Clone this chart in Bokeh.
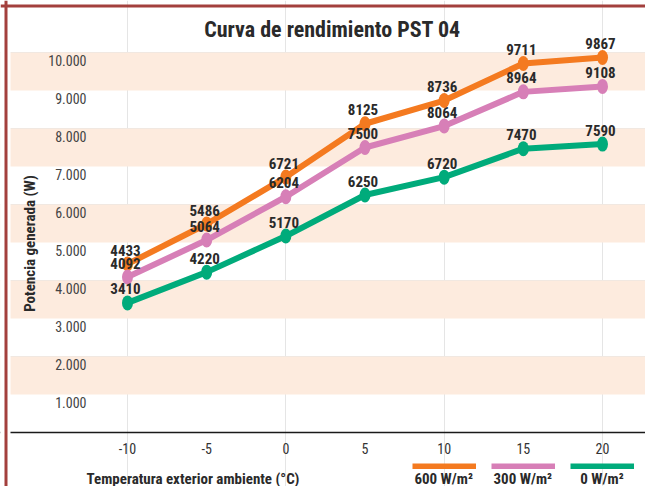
import math
from bokeh.plotting import figure
from bokeh.models import (Range1d, LinearAxis, FixedTicker, Label, Legend,
                          LegendItem, Span, BoxAnnotation)
from bokeh.embed import file_html
from bokeh.resources import INLINE
from bokeh.core.properties import value

# ---------------- data ----------------
temps = [-10, -5, 0, 5, 10, 15, 20]
x_tick_labels = ["-10", "-5", "0", "5", "10", "15", "20"]
p600 = [4433, 5486, 6721, 8125, 8736, 9711, 9867]
p300 = [4092, 5064, 6204, 7500, 8064, 8964, 9108]
p0 = [3410, 4220, 5170, 6250, 6720, 7470, 7590]
series_names = ["600 W/m²", "300 W/m²", "0 W/m²"]
series_values = [p600, p300, p0]
legend_temps = [10, 15, 20]      # x tick under which each legend entry sits
colors = ["#F47A20", "#D77FB7", "#00AB7B"]
y_ticks = [1000, 2000, 3000, 4000, 5000, 6000, 7000, 8000, 9000, 10000]
y_tick_labels = ["1.000", "2.000", "3.000", "4.000", "5.000",
                 "6.000", "7.000", "8.000", "9.000", "10.000"]
band_ticks = [0, 1000, 2000, 3000, 4000, 5000, 6000, 7000, 8000, 9000, 10000]
title_text = "Curva de rendimiento PST 04"
x_title = "Temperatura exterior ambiente (°C)"
y_title = "Potencia generada (W)"

# ---------------- geometry ----------------
W, H = 645, 486
FONT = "'Roboto Condensed', Roboto, sans-serif"
TXT = "#2a2a2a"
kx = (602 - 127) / 30.0           # px per degree
ky = 38.0 / 1000.0                # px per watt
x0px = 127                        # px of x = -10
y0px = 432                        # px of y = 0
x_start = -10 - x0px / kx
x_end = x_start + W / kx
y_start = -(H - y0px) / ky
y_end = y0px / ky


def px2x(px):
    return x_start + px / kx


def px2y(py):
    return (y0px - py) / ky


p = figure(width=W, height=H, x_range=Range1d(x_start, x_end),
           y_range=Range1d(y_start, y_end), output_backend="svg",
           toolbar_location=None, x_axis_location=None, y_axis_location=None,
           min_border_left=0, min_border_right=0, min_border_top=0,
           min_border_bottom=0, outline_line_color=None,
           background_fill_color="white", border_fill_color="white")
p.title = None

# shaded bands: every second interval between the band ticks
for i in range(1, len(band_ticks) - 1, 2):
    p.add_layout(BoxAnnotation(bottom=band_ticks[i], top=band_ticks[i + 1],
                               fill_color="#FDEBDE", fill_alpha=1.0,
                               line_color=None, level="underlay"))

# y axis labels (slightly below their gridline, as in the reference)
shift = 8 / ky
p.extra_y_ranges = {"ylab": Range1d(y_start + shift, y_end + shift)}
yax = LinearAxis(y_range_name="ylab", ticker=FixedTicker(ticks=y_ticks),
                 fixed_location=px2x(90), axis_line_color=None,
                 major_tick_line_color=None, minor_tick_line_color=None,
                 major_tick_out=0, major_tick_in=0, major_label_standoff=4,
                 major_label_overrides={t: l for t, l in zip(y_ticks, y_tick_labels)},
                 major_label_text_font=FONT, major_label_text_font_size="14px",
                 major_label_text_color="#444444")
p.add_layout(yax, "left")

# x axis
xax = LinearAxis(ticker=FixedTicker(ticks=temps), fixed_location=0,
                 axis_line_color="#1a1a1a", axis_line_width=1.5,
                 major_tick_line_color=None, minor_tick_line_color=None,
                 major_tick_out=0, major_tick_in=0, major_label_standoff=10,
                 major_label_overrides={t: l for t, l in zip(temps, x_tick_labels)},
                 major_label_text_font=FONT, major_label_text_font_size="14px",
                 major_label_text_color="#333333")
p.add_layout(xax, "below")

# series
line_renderers = []
for vals, col in zip(series_values, colors):
    r = p.line(temps, vals, line_width=6, line_color=col, line_join="round")
    p.ellipse(temps, vals, width=11, height=15, width_units="screen",
              height_units="screen", fill_color=col, line_color=None)
    line_renderers.append(r)

for vals in series_values:
    p.text(temps, vals, text=[str(v) for v in vals], text_align="center",
           text_baseline="middle", x_offset=-2, y_offset=-14,
           text_font=value(FONT), text_font_size="15px", text_font_style="bold",
           text_color=TXT)

# cover band area left of the chart and draw the frame border
p.add_layout(BoxAnnotation(left=x_start, right=px2x(10), fill_color="white",
                           fill_alpha=1.0, line_color=None))
p.add_layout(Span(location=px2x(5.5), dimension="height", line_color="#A3403D",
                  line_width=3))
p.add_layout(Span(location=px2y(5.5), dimension="width", line_color="#A3403D",
                  line_width=3))

# titles
p.add_layout(Label(x=px2x(332), y=px2y(29), text=title_text, text_align="center",
                   text_baseline="middle", text_font=FONT, text_font_size="22px",
                   text_font_style="bold", text_color=TXT))
p.add_layout(Label(x=px2x(86), y=px2y(478), text=x_title, text_align="left",
                   text_baseline="middle", text_font=FONT, text_font_size="15px",
                   text_font_style="bold", text_color=TXT))
p.add_layout(Label(x=px2x(29), y=px2y(243), text=y_title, text_align="center",
                   text_baseline="middle", angle=math.pi / 2, text_font=FONT,
                   text_font_size="15px", text_font_style="bold", text_color=TXT))

# legend: a row of line samples, with the names written underneath
leg = Legend(items=[LegendItem(label=" ", renderers=[r]) for r in line_renderers],
             location=(412, H - 462.5 - 6), orientation="horizontal",
             glyph_width=64, glyph_height=6, label_height=6, label_width=0,
             label_standoff=0, spacing=15, padding=0, margin=0,
             border_line_color=None, background_fill_alpha=0,
             label_text_font_size="1px")
p.add_layout(leg)
for name, t in zip(series_names, legend_temps):
    p.add_layout(Label(x=t, y=px2y(478), text=name, x_offset=-0.5,
                       text_align="center", text_baseline="middle",
                       text_font=FONT, text_font_size="15px",
                       text_font_style="bold", text_color=TXT))

open("out.html", "w").write(file_html(p, INLINE))
